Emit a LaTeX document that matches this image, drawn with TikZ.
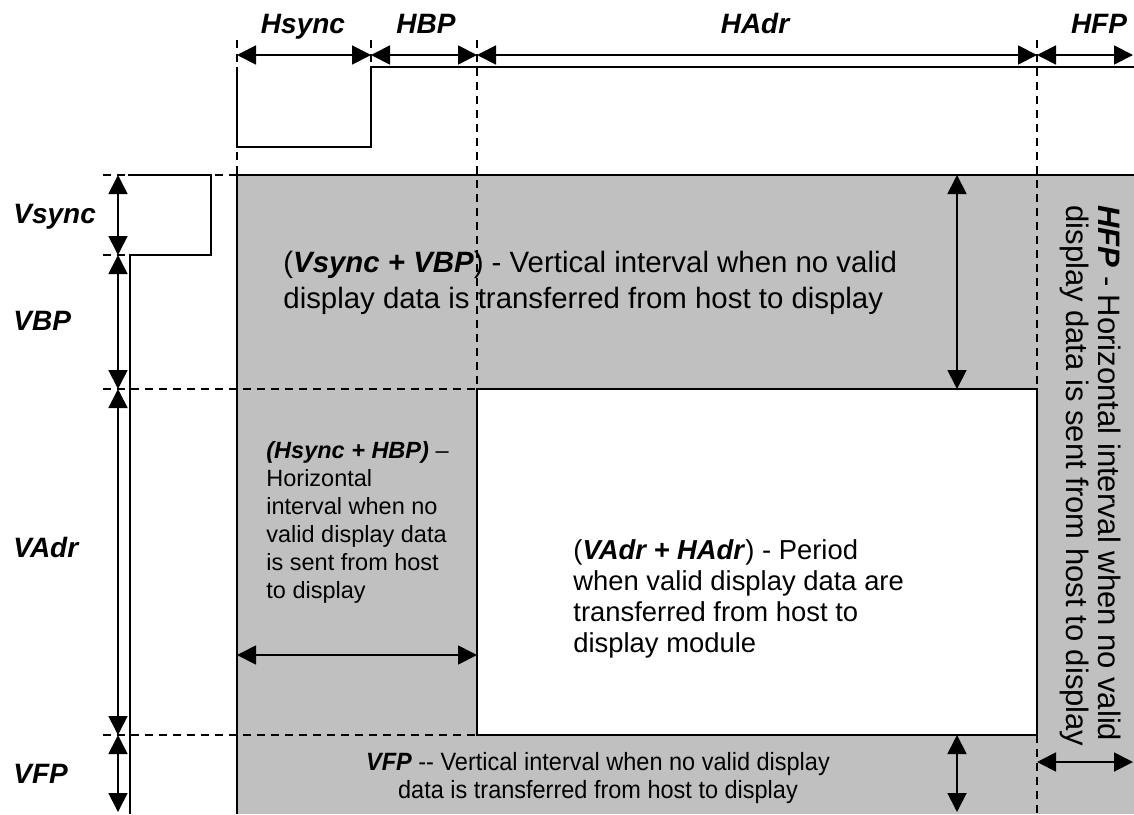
\documentclass[tikz,border=0pt]{standalone}
\usepackage{fontspec}
\setmainfont{Liberation Sans}
\newfontfamily\narrowfont[FakeStretch=0.94]{Liberation Sans}
\usetikzlibrary{arrows.meta}
\definecolor{blankgray}{HTML}{C0C0C0}

\begin{document}
\begin{tikzpicture}[x=0.5pt,y=-0.5pt]
\tikzset{
  dimarrow/.style={{Triangle[length=9.5pt,width=9.5pt]}-{Triangle[length=9.5pt,width=9.5pt]},line width=0.9pt},
  guide/.style={dash pattern=on 4pt off 3pt,line width=0.7pt},
  signal/.style={line width=0.9pt},
  period/.style={font=\fontsize{14}{16}\selectfont\bfseries\itshape,inner sep=0pt},
  note/.style={inner sep=0pt,align=left}
}
\useasboundingbox (0,0) rectangle (1134,814);
\fill[blankgray] (237,175) rectangle (1134,814);
\draw[signal,fill=white] (477,389) rectangle (1037,735);
\draw[signal] (1134,175) -- (237,175) -- (237,814);
\coordinate (t_hs) at (237,55);
\coordinate (t_hbp) at (371,55);
\coordinate (t_ha) at (477,55);
\coordinate (t_hfp) at (1037,55);
\coordinate (t_end) at (1133,55);
\coordinate (l_vs) at (118,175);
\coordinate (l_vbp) at (118,255);
\coordinate (l_va) at (118,389);
\coordinate (l_vfp) at (118,735);
\coordinate (l_end) at (118,812);
\coordinate (a_top) at (957,175);
\coordinate (a_mid) at (957,389);
\coordinate (a_low) at (957,735);
\coordinate (a_bot) at (957,812);
\coordinate (h_l) at (237,655);
\coordinate (h_r) at (477,655);
\coordinate (f_l) at (1037,762);
\coordinate (f_r) at (1133,762);
\draw[guide] (237,40) -- (237,175);
\draw[guide] (371,40) -- (371,67);
\draw[guide] (477,40) -- (477,389);
\draw[guide] (1037,40) -- (1037,389);
\draw[guide] (1037,735) -- (1037,814);
\draw[guide] (103,175) -- (237,175);
\draw[guide] (103,255) -- (130,255);
\draw[guide] (103,389) -- (477,389);
\draw[guide] (103,735) -- (477,735);
\draw[signal] (237,67) -- (237,147) -- (371,147) -- (371,67) -- (1134,67);
\draw[signal] (128,175) -- (211,175) -- (211,255) -- (130,255) -- (130,814);
\draw[dimarrow] (t_hs) -- (t_hbp);
\draw[dimarrow] (t_hbp) -- (t_ha);
\draw[dimarrow] (t_ha) -- (t_hfp);
\draw[dimarrow] (t_hfp) -- (t_end);
\draw[dimarrow] (l_vs) -- (l_vbp);
\draw[dimarrow] (l_vbp) -- (l_va);
\draw[dimarrow] (l_va) -- (l_vfp);
\draw[dimarrow] (l_vfp) -- (l_end);
\draw[dimarrow] (a_top) -- (a_mid);
\draw[dimarrow] (a_low) -- (a_bot);
\draw[dimarrow] (h_l) -- (h_r);
\draw[dimarrow] (f_l) -- (f_r);
\node[period,anchor=base] (lab_hsync) at (303,33) {Hsync};
\node[period,anchor=base] (lab_hbp) at (426,33) {HBP};
\node[period,anchor=base] (lab_hadr) at (755,33) {HAdr};
\node[period,anchor=base] (lab_hfp) at (1099,33) {HFP};
\node[period,anchor=base west] (lab_vsync) at (13,223) {Vsync};
\node[period,anchor=base west] (lab_vbp) at (13,330) {VBP};
\node[period,anchor=base west] (lab_vadr) at (13,557) {VAdr};
\node[period,anchor=base west] (lab_vfp) at (13,783) {VFP};
\node[note,font=\fontsize{14.7}{18}\selectfont,anchor=base west] (txt_vback) at (283,308)
  {(\textbf{\textit{Vsync + VBP}}) - Vertical interval when no valid\\display data is transferred from host to display};
\node[note,font=\fontsize{11.75}{14}\selectfont,anchor=base west] (txt_hback) at (266,598)
  {\textbf{\textit{(Hsync + HBP)}} –\\Horizontal\\interval when no\\valid display data\\is sent from host\\to display};
\node[note,font=\fontsize{13.7}{15.5}\selectfont,anchor=base west] (txt_active) at (573,652)
  {(\textbf{\textit{VAdr + HAdr}}) - Period\\when valid display data are\\transferred from host to\\display module};
\node[inner sep=0pt,align=center,font=\narrowfont\fontsize{12.5}{14}\selectfont,anchor=base] (txt_vfront) at (598,798)
  {\textbf{\textit{VFP}} -{}- Vertical interval when no valid display\\data is transferred from host to display};
\node[note,rotate=-90,anchor=north west,font=\fontsize{15.5}{16}\selectfont] (txt_hfront) at (1121,205)
  {\textbf{\textit{HFP}} - Horizontal interval when no valid\\display data is sent from host to display};
\end{tikzpicture}
\end{document}
